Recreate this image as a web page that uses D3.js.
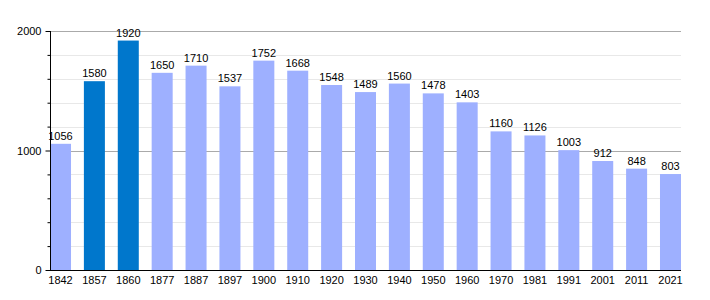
<!DOCTYPE html>
<meta charset="utf-8">
<style>
body { margin: 0; background: #fff; }
text { font-family: "Liberation Sans", Arial, sans-serif; font-size: 11px; fill: #000; }
</style>
<body>
<script src="https://cdn.jsdelivr.net/npm/d3@7"></script>
<script>

// data
var years = ["1842","1857","1860","1877","1887","1897","1900","1910","1920","1930",
             "1940","1950","1960","1970","1981","1991","2001","2011","2021"];
var population = [1056,1580,1920,1650,1710,1537,1752,1668,1548,1489,
                  1560,1478,1403,1160,1126,1003,912,848,803];
var highlighted = ["1857","1860"];
var majorTicks = [0, 1000, 2000];
var minorTicks = [200, 400, 600, 800, 1200, 1400, 1600, 1800];

var width = 710, height = 300;
var plotLeft = 50, plotRight = 681, plotTop = 31, plotBottom = 270;

var svg = d3.select("body").append("svg")
    .attr("width", width)
    .attr("height", height);

var x = d3.scaleBand().domain(years).range([plotLeft, plotRight])
    .paddingInner(0.38).paddingOuter(0);
var y = d3.scaleLinear().domain([0, 2000]).range([plotBottom, plotTop]);

// gridlines
svg.selectAll("line.minor")
   .data(minorTicks)
 .enter().append("line")
   .attr("x1", plotLeft).attr("x2", plotRight)
   .attr("y1", function(d) { return Math.round(y(d)) + 0.5; })
   .attr("y2", function(d) { return Math.round(y(d)) + 0.5; })
   .style("stroke", "#e8e8e8");

svg.selectAll("line.major")
   .data([1000, 2000])
 .enter().append("line")
   .attr("x1", plotLeft).attr("x2", plotRight)
   .attr("y1", function(d) { return Math.round(y(d)) + 0.5; })
   .attr("y2", function(d) { return Math.round(y(d)) + 0.5; })
   .style("stroke", "#aaaaaa");

// bars
svg.selectAll("rect.bar")
   .data(population)
 .enter().append("rect")
   .attr("x", function(d, i) { return x(years[i]); })
   .attr("y", function(d) { return y(d); })
   .attr("width", x.bandwidth())
   .attr("height", function(d) { return plotBottom - y(d); })
   .style("fill", function(d, i) {
     return highlighted.indexOf(years[i]) >= 0 ? "#0077cc" : "#9eb0ff";
   });

// value labels
svg.selectAll("text.val")
   .data(population)
 .enter().append("text")
   .attr("x", function(d, i) { return x(years[i]) + x.bandwidth() / 2; })
   .attr("y", function(d) { return y(d) - 4; })
   .attr("text-anchor", "middle")
   .text(function(d) { return d; });

// y axis
svg.append("g")
   .attr("transform", "translate(" + (plotLeft + 0.5) + ",0)")
   .call(d3.axisLeft(y).tickValues(minorTicks).tickSize(3).tickFormat(""))
   .call(function(g) { g.select(".domain").remove(); });

svg.append("g")
   .attr("transform", "translate(" + (plotLeft + 0.5) + ",0)")
   .call(d3.axisLeft(y).tickValues(majorTicks).tickSize(5).tickPadding(4).tickFormat(d3.format("d")))
   .call(function(g) {
     g.select(".domain").remove();
     g.selectAll("text").style("font-size", "11px").style("font-family", "Liberation Sans, Arial, sans-serif");
   });

svg.append("line")
   .attr("x1", plotLeft + 0.5).attr("x2", plotLeft + 0.5)
   .attr("y1", plotTop).attr("y2", plotBottom + 0.5)
   .style("stroke", "#000");

// x axis
svg.append("g")
   .attr("transform", "translate(0," + (plotBottom + 0.5) + ")")
   .call(d3.axisBottom(x).tickSize(0).tickPadding(6))
   .call(function(g) {
     g.select(".domain").attr("d", "M" + plotLeft + ",0H" + plotRight);
     g.selectAll("text").style("font-size", "11px").style("font-family", "Liberation Sans, Arial, sans-serif");
   });

</script>
</body>
